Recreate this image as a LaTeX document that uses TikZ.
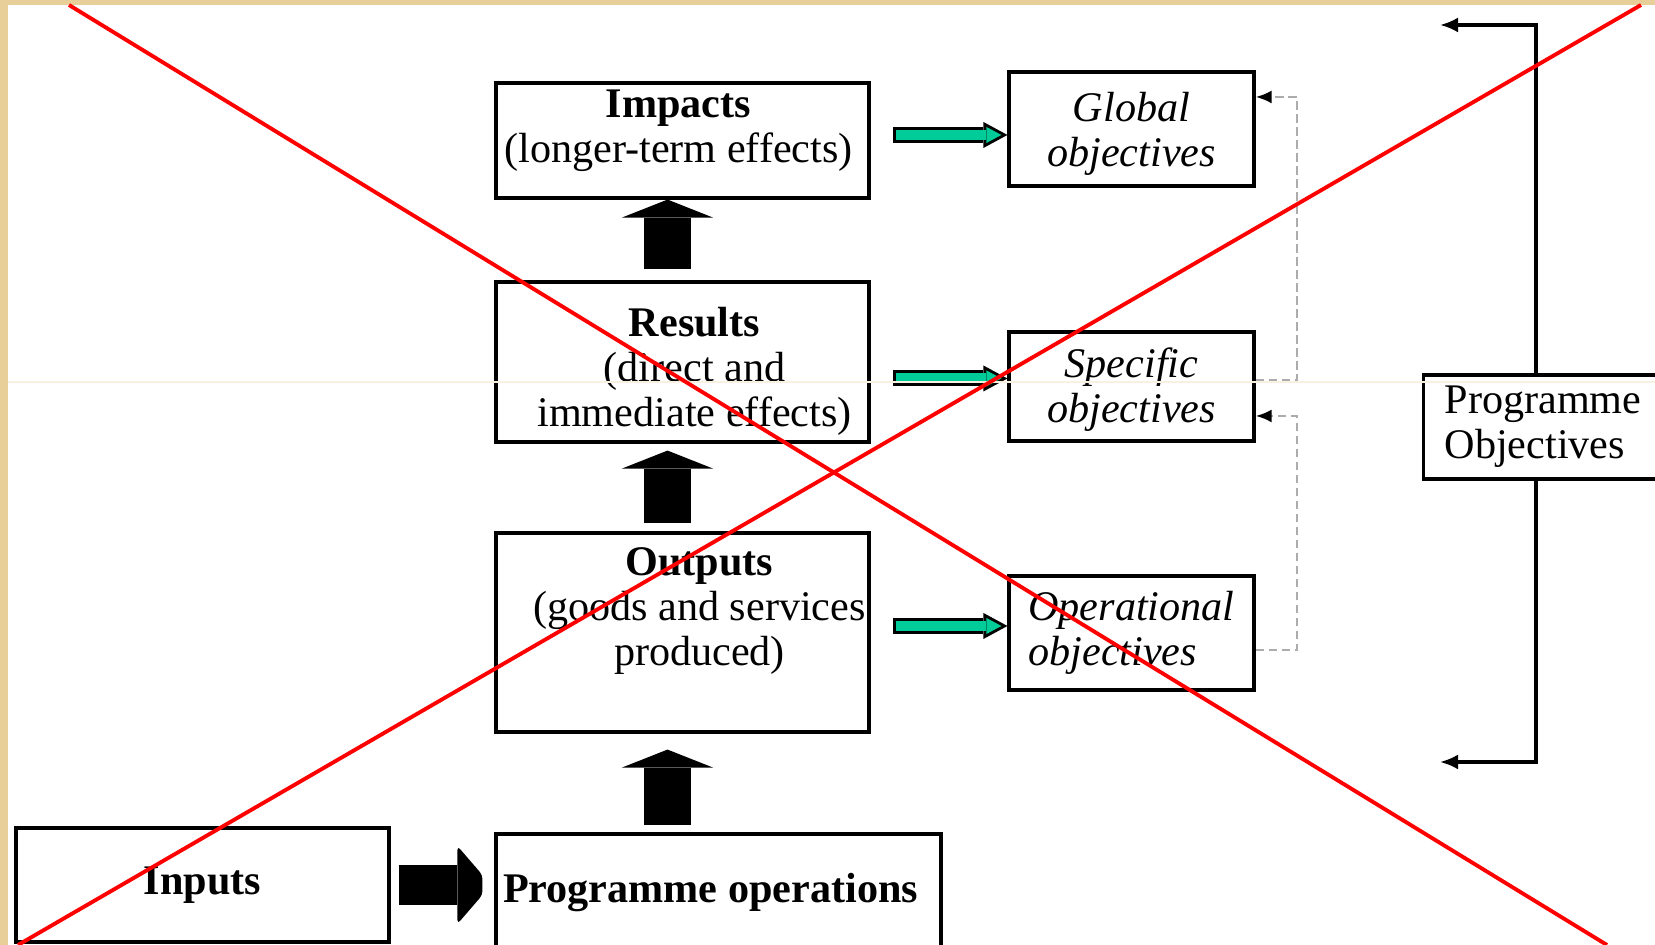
\documentclass[tikz,border=0pt]{standalone}
\usepackage{fontspec}
\setmainfont{Liberation Serif}
\usetikzlibrary{arrows.meta,calc}

\definecolor{paper}{RGB}{232,206,152}
\definecolor{goal}{RGB}{0,204,153}

\tikzset{
  box/.style={draw, line width=0.9pt, minimum width=3.73cm, inner sep=0.05cm, font=\fontsize{12pt}{12.8pt}\selectfont},
  objbox/.style={box, minimum width=2.45cm, align=center, font=\fontsize{12pt}{12.8pt}\selectfont\itshape},
  txt/.style={align=center, inner sep=0pt, font=\fontsize{12pt}{12.8pt}\selectfont},
  flowarrow/.style={line width=0.47cm, -{Triangle[length=0.18cm,width=0.91cm,line width=0pt]}},
  goalarrow/.style={draw=goal, line width=0.10cm, shorten <=0.03cm, shorten >=0.06cm,
    -{Triangle[length=0.15cm,width=0.16cm,line width=0pt]},
    preaction={draw=black, line width=0.16cm, shorten <=0cm, shorten >=0cm,
      -{Triangle[length=0.24cm,width=0.26cm,line width=0pt]}}},
  dashlink/.style={draw=gray!65, line width=0.8pt, dash pattern=on 2.5pt off 1.2pt,
    -{Latex[length=0.16cm,width=0.13cm,color=black]}},
  objlink/.style={draw, line width=0.9pt, -{Latex[length=0.18cm,width=0.15cm]}}
}

\begin{document}
\begin{tikzpicture}
\useasboundingbox (0,0) rectangle (16.55,9.45);
\fill[paper] (0,0) rectangle (16.55,9.45);
\fill[white] (0.08,0) rectangle (16.55,9.40);
%\draw[step=0.5cm,gray,very thin] (0,0) grid (16.5,9.4); %help grid

% chain of effects
\node[box, minimum height=1.15cm, label={[txt,xshift=-0.04cm,yshift=0.095cm]center:{\textbf{Impacts}\\(longer-term effects)}}] (impacts) at (6.825,8.045) {};
\node[box, minimum height=1.60cm, label={[txt,xshift=0.12cm,yshift=-0.095cm]center:{\textbf{Results}\\(direct and\\immediate effects)}}] (results) at (6.825,5.83) {};
\node[box, minimum height=1.99cm, label={[txt,xshift=0.17cm,yshift=0.215cm]center:{\textbf{Outputs}\\(goods and services\\produced)}}] (outputs) at (6.825,3.125) {};
\node[box, minimum height=1.14cm] (inputs) at (2.025,0.60) {\textbf{Inputs}};
\node[box, minimum width=4.45cm, minimum height=1.16cm, label={[txt,xshift=-0.08cm,yshift=-0.01cm]center:{\textbf{Programme operations}}}] (progops) at (7.185,0.53) {};

% objectives
\node[objbox, minimum height=1.14cm, label={[txt,font=\fontsize{12pt}{12.8pt}\selectfont\itshape,yshift=-0.05cm]center:{Global\\objectives}}] (global) at (11.315,8.16) {};
\node[objbox, minimum height=1.09cm, label={[txt,font=\fontsize{12pt}{12.8pt}\selectfont\itshape,yshift=-0.03cm]center:{Specific\\objectives}}] (specific) at (11.315,5.585) {};
\node[objbox, minimum height=1.14cm, align=left] (operational) at (11.315,3.12) {Operational\\objectives};
\node[box, minimum width=0pt, text width=2.2cm, inner xsep=0.21cm, minimum height=1.04cm, align=left, anchor=west] (progobj) at (14.22,5.18) {Programme\\Objectives};

% big arrows
\coordinate (spine) at (6.675,0);
\draw[flowarrow, shorten <=0.11cm] (results.north -| spine) -- (impacts.south -| spine);
\draw[flowarrow, shorten <=0.08cm, shorten >=0.07cm] (outputs.north -| spine) -- (results.south -| spine);
\draw[flowarrow, shorten <=0.07cm, shorten >=0.16cm] (progops.north -| spine) -- (outputs.south -| spine);

\coordinate (ophead) at ($(inputs.east -| progops.west)+(-0.37,0)$);
\draw[line width=0.40cm, shorten <=0.08cm] (inputs.east) -- (ophead);
\fill[rounded corners=0.04cm] (ophead) ++(0,0.39) -- ++(0.25,-0.29) -- ++(0,-0.20) -- ++(-0.25,-0.29) -- cycle;

% green arrows
\draw[goalarrow] ($(global.west)+(-1.14,-0.06)$) -- ([yshift=-0.06cm]global.west);
\draw[goalarrow] ($(specific.west)+(-1.14,0.08)$) -- ([yshift=0.08cm]specific.west);
\draw[goalarrow] ($(operational.west)+(-1.14,0.07)$) -- ([yshift=0.07cm]operational.west);

% dashed links
\coordinate (bendtop) at (12.97,8.48);
\coordinate (bendlow) at (12.97,5.29);
\draw[dashlink] ([yshift=0.06cm]specific.east) -| (bendtop) -- (bendtop -| global.east);
\draw[dashlink] ([yshift=-0.17cm]operational.east) -| (bendlow) -- (bendlow -| specific.east);

% programme objectives
\coordinate (uptop) at (15.36,9.20);
\coordinate (upend) at (14.40,9.20);
\coordinate (downbot) at (15.36,1.83);
\coordinate (downend) at (14.40,1.83);
\draw[objlink] (progobj.north -| uptop) -- (uptop) -- (upend);
\draw[objlink] (progobj.south -| downbot) -- (downbot) -- (downend);

\draw[paper!30, line width=0.3pt] (0.08,5.63) -- (16.55,5.63);

% cross
\draw[red, line width=1.1pt] (0.69,9.40) -- (16.07,0);
\draw[red, line width=1.1pt] (16.41,9.40) -- (0.18,0);
\end{tikzpicture}
\end{document}
